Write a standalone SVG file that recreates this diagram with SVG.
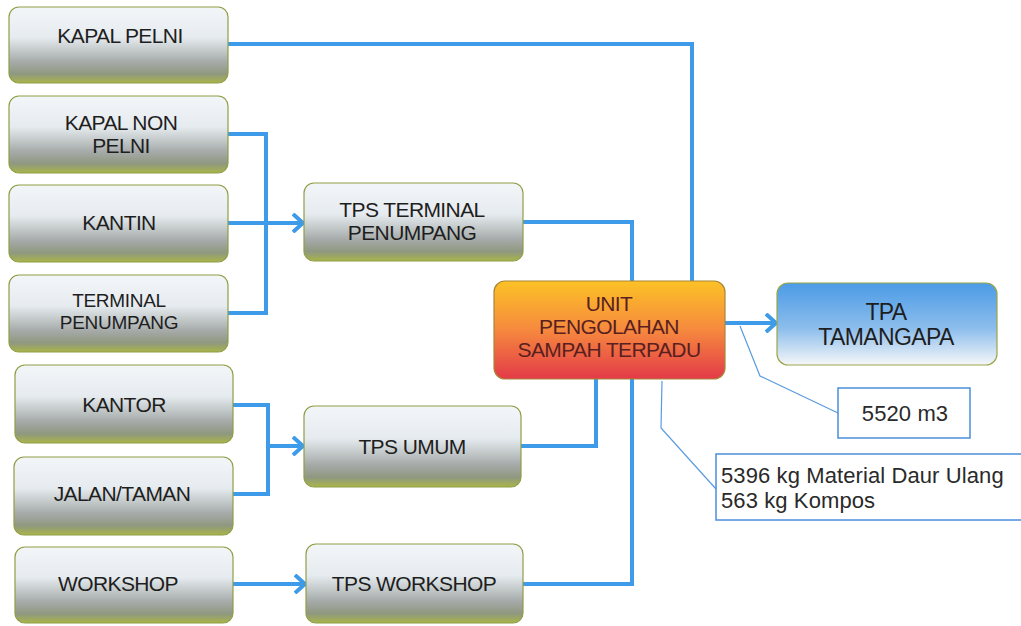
<svg xmlns="http://www.w3.org/2000/svg" width="1021" height="626" viewBox="0 0 1021 626">
<defs>
<linearGradient id="g" x1="0" y1="0" x2="0" y2="1">
<stop offset="0" stop-color="#f3f6f9"/>
<stop offset="0.4" stop-color="#e6ebef"/>
<stop offset="0.72" stop-color="#a6abaa"/>
<stop offset="0.88" stop-color="#8f9880"/>
<stop offset="1" stop-color="#a9b54a"/>
</linearGradient>
<linearGradient id="go" x1="0" y1="0" x2="0" y2="1">
<stop offset="0" stop-color="#fcc226"/>
<stop offset="0.5" stop-color="#f6893e"/>
<stop offset="1" stop-color="#e33a48"/>
</linearGradient>
<linearGradient id="gb" x1="0" y1="0" x2="0" y2="1">
<stop offset="0" stop-color="#4b9be6"/>
<stop offset="0.55" stop-color="#8cbdec"/>
<stop offset="1" stop-color="#f5f7f9"/>
</linearGradient>
<marker id="ah" viewBox="0 0 12 20" refX="11" refY="10" markerWidth="12" markerHeight="20" markerUnits="userSpaceOnUse" orient="auto">
<path d="M1,1 L11,10 L1,19" fill="none" stroke="#3d9be9" stroke-width="4"/>
</marker>
<style>
.n{fill:url(#g);stroke:#8f9e45;stroke-width:1.2}
.t{font-family:"Liberation Sans",Arial,sans-serif;font-size:21px;fill:#1e1e1e;text-anchor:middle;letter-spacing:-0.6px}
.s{font-size:19px;letter-spacing:-0.3px}
.c{fill:none;stroke:#3d9be9;stroke-width:4}
.th{fill:none;stroke:#5a9be0;stroke-width:1.2}
.cb{fill:#fff;stroke:#4a8fdc;stroke-width:1.5}
.ct{font-family:"Liberation Sans",Arial,sans-serif;font-size:22px;fill:#2a2a2a;letter-spacing:0.1px}
.u{fill:#5a1f1f}
</style>
</defs>
<rect width="1021" height="626" fill="#fff"/>
<g id="connectors">
<path class="c" d="M228,44 H692 V281"/>
<path class="c" d="M228,134 H266 V313 H228"/>
<path class="c" d="M228,223 H303" marker-end="url(#ah)"/>
<path class="c" d="M523,222 H632 V281"/>
<path class="c" d="M233,405 H268 V494 H233"/>
<path class="c" d="M268,446 H303" marker-end="url(#ah)"/>
<path class="c" d="M521,446 H596 V379"/>
<path class="c" d="M523,584 H632 V379"/>
<path class="c" d="M233,584 H305" marker-end="url(#ah)"/>
<path class="c" d="M725,323 H776" marker-end="url(#ah)"/>
<path class="th" d="M740,326 L760,376 L838,413"/>
<path class="th" d="M662,381 L661,428 L716,489"/>
</g>
<g id="kapal-pelni"><rect class="n" x="9" y="7" width="219" height="76" rx="10"/><text class="t" x="120" y="43">KAPAL PELNI</text></g>
<g id="kapal-non-pelni"><rect class="n" x="9" y="96" width="219" height="77" rx="10"/><text class="t" x="121" y="130">KAPAL NON</text><text class="t" x="121" y="153">PELNI</text></g>
<g id="kantin"><rect class="n" x="9" y="185" width="219" height="77" rx="10"/><text class="t" x="119" y="230">KANTIN</text></g>
<g id="terminal-penumpang"><rect class="n" x="9" y="275" width="219" height="77" rx="10"/><text class="t s" x="119" y="307">TERMINAL</text><text class="t s" x="119" y="329">PENUMPANG</text></g>
<g id="kantor"><rect class="n" x="15" y="365" width="218" height="78" rx="10"/><text class="t" x="124" y="412">KANTOR</text></g>
<g id="jalan-taman"><rect class="n" x="14" y="457" width="219" height="78" rx="10"/><text class="t" x="122" y="501">JALAN/TAMAN</text></g>
<g id="workshop"><rect class="n" x="15" y="547" width="218" height="76" rx="10"/><text class="t" x="118" y="591">WORKSHOP</text></g>
<g id="tps-terminal"><rect class="n" x="304" y="183" width="219" height="78" rx="10"/><text class="t" x="412" y="217">TPS TERMINAL</text><text class="t" x="412" y="240">PENUMPANG</text></g>
<g id="tps-umum"><rect class="n" x="304" y="406" width="217" height="81" rx="10"/><text class="t" x="412" y="454">TPS UMUM</text></g>
<g id="tps-workshop"><rect class="n" x="306" y="544" width="217" height="79" rx="10"/><text class="t" x="414" y="591">TPS WORKSHOP</text></g>
<g id="upst"><rect x="494" y="281" width="231" height="98" rx="11" fill="url(#go)" stroke="#a9863a" stroke-width="1.2"/><text class="t u" x="609" y="311">UNIT</text><text class="t u" x="609" y="334">PENGOLAHAN</text><text class="t u" x="609" y="357">SAMPAH TERPADU</text></g>
<g id="tpa"><rect x="777" y="283" width="220" height="82" rx="11" fill="url(#gb)" stroke="#9aa64a" stroke-width="1.2"/><text class="t" x="886" y="320" style="font-size:23px">TPA</text><text class="t" x="886" y="345" style="font-size:23px">TAMANGAPA</text></g>
<g id="callout-5520"><rect class="cb" x="838" y="388" width="132" height="50"/><text class="ct" x="905" y="421" text-anchor="middle">5520 m3</text></g>
<g id="callout-material"><rect class="cb" x="716" y="454" width="310" height="66"/><text class="ct" x="721" y="483">5396 kg Material Daur Ulang</text><text class="ct" x="721" y="508">563 kg Kompos</text></g>
</svg>
